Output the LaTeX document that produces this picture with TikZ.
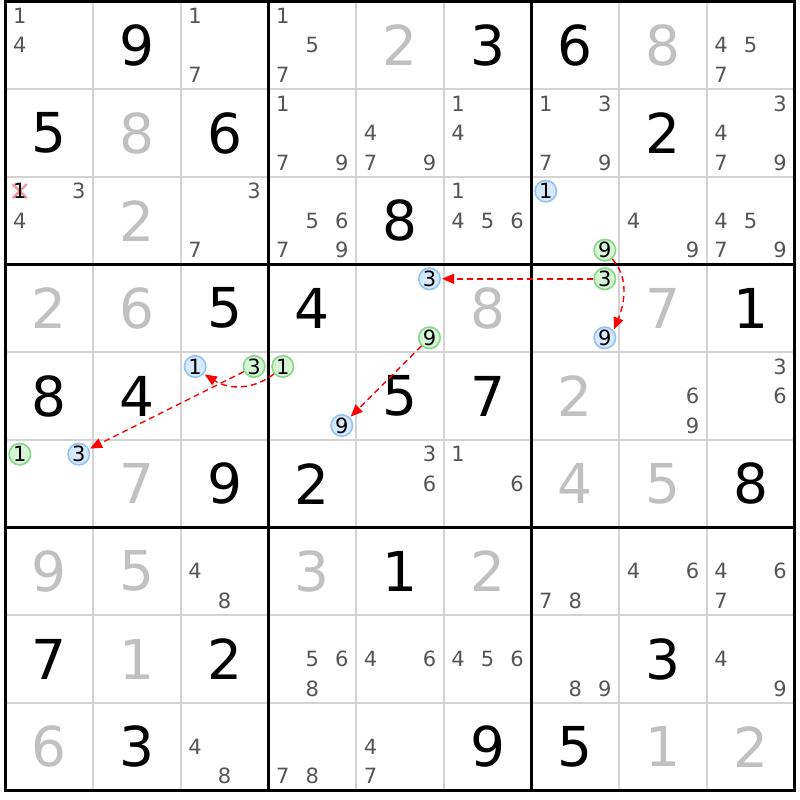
\documentclass[tikz,border=0pt]{standalone}
\usepackage{fontspec}
\setmainfont{DejaVu Sans}
\usetikzlibrary{arrows.meta}
\definecolor{thinc}{RGB}{211,211,211}
\definecolor{solvedc}{RGB}{192,192,192}
\definecolor{candc}{RGB}{85,85,85}
\definecolor{bluef}{RGB}{214,232,252}
\definecolor{blued}{RGB}{145,195,245}
\definecolor{greenf}{RGB}{214,245,214}
\definecolor{greend}{RGB}{135,215,135}
\definecolor{xred}{RGB}{245,150,160}
\definecolor{arrred}{RGB}{255,0,0}
\newcommand\CS{87.6667}
\newcommand\bigd[4]{%
  \pgfmathsetmacro\bx{5.5+(#3-0.5)*\CS}%
  \pgfmathsetmacro\by{1.5+(#2-0.5)*\CS}%
  \node[#1] (d#2#3) at (\bx,\by) {#4};}
\newcommand\cands[3]{\foreach \d in {#3}{%
  \pgfmathsetmacro\cx{5.5+(#2-1)*\CS+14.3+mod(\d-1,3)*29.5}%
  \pgfmathsetmacro\cy{1.5+(#1-1)*\CS+14.3+floor((\d-1)/3)*29.5}%
  \node[cand] (k#1#2\d) at (\cx,\cy) {\d};}}
\newcommand\ccand[5]{%
  \pgfmathsetmacro\cx{5.5+(#4-1)*\CS+14.3+mod(#5-1,3)*29.5}%
  \pgfmathsetmacro\cy{1.5+(#3-1)*\CS+14.3+floor((#5-1)/3)*29.5}%
  \node[#1] (#2) at (\cx,\cy) {#5};}
\tikzset{
  given/.style={font=\fontsize{55}{55}\selectfont, text=black, inner sep=0pt},
  solved/.style={given, text=solvedc},
  cand/.style={font=\fontsize{21}{21}\selectfont, text=candc, inner sep=0pt},
  bc/.style={circle, draw=blued, fill=bluef, line width=1.6pt, minimum size=21.5pt, inner sep=0pt, font=\fontsize{21}{21}\selectfont, text=black},
  gc/.style={bc, draw=greend, fill=greenf},
  arr/.style={draw=arrred, line width=1.4pt, dash pattern=on 6pt off 4pt, -{Triangle[length=12pt,width=10pt]}, shorten >=1pt},
  thinl/.style={draw=thinc, line width=2pt},
  thickl/.style={draw=black, line width=2.8pt, line cap=rect}
}
\begin{document}
\begin{tikzpicture}[x=1pt,y=-1pt]
\useasboundingbox (0,0) rectangle (800,800);
\fill[white] (0,0) rectangle (800,800);
% thin grid
\foreach \i in {1,2,4,5,7,8}{
  \draw[thinl] (5.5+\i*\CS,1.5) -- (5.5+\i*\CS,790.5);
  \draw[thinl] (5.5,1.5+\i*\CS) -- (794.5,1.5+\i*\CS);
}
% thick box lines
\foreach \i in {0,3,6,9}{
  \draw[thickl] (5.5+\i*\CS,1.5) -- (5.5+\i*\CS,790.5);
  \draw[thickl] (5.5,1.5+\i*\CS) -- (794.5,1.5+\i*\CS);
}
% row 1
\cands{1}{1}{1,4} \bigd{given}{1}{2}{9} \cands{1}{3}{1,7} \cands{1}{4}{1,5,7}
\bigd{solved}{1}{5}{2} \bigd{given}{1}{6}{3} \bigd{given}{1}{7}{6} \bigd{solved}{1}{8}{8} \cands{1}{9}{4,5,7}
% row 2
\bigd{given}{2}{1}{5} \bigd{solved}{2}{2}{8} \bigd{given}{2}{3}{6} \cands{2}{4}{1,7,9} \cands{2}{5}{4,7,9}
\cands{2}{6}{1,4} \cands{2}{7}{1,3,7,9} \bigd{given}{2}{8}{2} \cands{2}{9}{3,4,7,9}
% row 3
\draw[xred, line width=2.4pt] (5.5+14.3-7,176.83+14.3-7) -- (5.5+14.3+7,176.83+14.3+7)
  (5.5+14.3-7,176.83+14.3+7) -- (5.5+14.3+7,176.83+14.3-7);
\node[cand, text=black] (x311) at (5.5+14.3,176.83+14.3) {1};
\cands{3}{1}{3,4} \bigd{solved}{3}{2}{2} \cands{3}{3}{3,7} \cands{3}{4}{5,6,7,9} \bigd{given}{3}{5}{8}
\cands{3}{6}{1,4,5,6} \ccand{bc}{b1r3}{3}{7}{1} \ccand{gc}{g9r3}{3}{7}{9} \cands{3}{8}{4,9} \cands{3}{9}{4,5,7,9}
% row 4
\bigd{solved}{4}{1}{2} \bigd{solved}{4}{2}{6} \bigd{given}{4}{3}{5} \bigd{given}{4}{4}{4}
\ccand{bc}{b3r4}{4}{5}{3} \ccand{gc}{g9r4}{4}{5}{9} \bigd{solved}{4}{6}{8}
\ccand{gc}{g3r4}{4}{7}{3} \ccand{bc}{b9r4}{4}{7}{9} \bigd{solved}{4}{8}{7} \bigd{given}{4}{9}{1}
% row 5
\bigd{given}{5}{1}{8} \bigd{given}{5}{2}{4} \ccand{bc}{b1r5}{5}{3}{1} \ccand{gc}{g3r5}{5}{3}{3}
\ccand{gc}{g1r5}{5}{4}{1} \ccand{bc}{b9r5}{5}{4}{9} \bigd{given}{5}{5}{5} \bigd{given}{5}{6}{7}
\bigd{solved}{5}{7}{2} \cands{5}{8}{6,9} \cands{5}{9}{3,6}
% row 6
\ccand{gc}{g1r6}{6}{1}{1} \ccand{bc}{b3r6}{6}{1}{3} \bigd{solved}{6}{2}{7} \bigd{given}{6}{3}{9}
\bigd{given}{6}{4}{2} \cands{6}{5}{3,6} \cands{6}{6}{1,6} \bigd{solved}{6}{7}{4} \bigd{solved}{6}{8}{5} \bigd{given}{6}{9}{8}
% row 7
\bigd{solved}{7}{1}{9} \bigd{solved}{7}{2}{5} \cands{7}{3}{4,8} \bigd{solved}{7}{4}{3} \bigd{given}{7}{5}{1}
\bigd{solved}{7}{6}{2} \cands{7}{7}{7,8} \cands{7}{8}{4,6} \cands{7}{9}{4,6,7}
% row 8
\bigd{given}{8}{1}{7} \bigd{solved}{8}{2}{1} \bigd{given}{8}{3}{2} \cands{8}{4}{5,6,8} \cands{8}{5}{4,6}
\cands{8}{6}{4,5,6} \cands{8}{7}{8,9} \bigd{given}{8}{8}{3} \cands{8}{9}{4,9}
% row 9
\bigd{solved}{9}{1}{6} \bigd{given}{9}{2}{3} \cands{9}{3}{4,8} \cands{9}{4}{7,8} \cands{9}{5}{4,7}
\bigd{given}{9}{6}{9} \bigd{given}{9}{7}{5} \bigd{solved}{9}{8}{1} \bigd{solved}{9}{9}{2}
% arrows
\draw[arr] (g3r4) -- (b3r4);
\draw[arr] (g9r3.-50) .. controls +(18,20) and +(10,-25) .. (b9r4.40);
\draw[arr] (g9r4) -- (b9r5);
\draw[arr] (g1r5.-140) .. controls +(-20,16) and +(25,16) .. (b1r5.-40);
\draw[arr] (g3r5) -- (b3r6);
\end{tikzpicture}
\end{document}
